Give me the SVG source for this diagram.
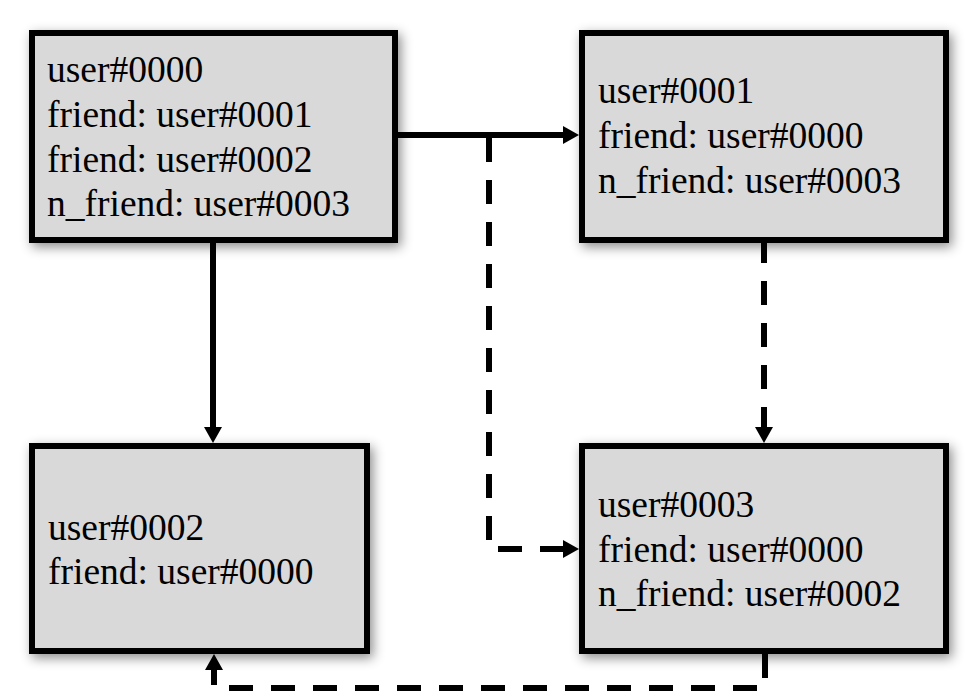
<svg xmlns="http://www.w3.org/2000/svg" width="978" height="692" viewBox="0 0 978 692">
<defs>
<filter id="sh" x="-10%" y="-10%" width="125%" height="130%">
<feDropShadow dx="3" dy="4" stdDeviation="6" flood-color="#000" flood-opacity="0.45"/>
</filter>
<marker id="ah" markerUnits="userSpaceOnUse" markerWidth="16" markerHeight="18" refX="6" refY="9" orient="auto">
<path d="M0,0 L16,9 L0,18 Z" fill="#000"/>
</marker>
<style>
.box{fill:#d9d9d9;stroke:#000;stroke-width:6;filter:url(#sh)}
.t{font-family:"Liberation Serif","Times New Roman",serif;font-size:37.5px;fill:#000}
.c{fill:none;stroke:#000;stroke-width:6;marker-end:url(#ah)}
.d{stroke-dasharray:24 18}
</style>
</defs>
<rect width="978" height="692" fill="#fff"/>
<g id="user0000">
<rect class="box" x="32" y="33" width="363" height="207"/>
<text class="t" x="47" y="82">user#0000</text>
<text class="t" x="47" y="127">friend: user#0001</text>
<text class="t" x="47" y="172">friend: user#0002</text>
<text class="t" x="47" y="216">n_friend: user#0003</text>
</g>
<g id="user0001">
<rect class="box" x="582" y="33" width="364" height="207"/>
<text class="t" x="598" y="103">user#0001</text>
<text class="t" x="598" y="148">friend: user#0000</text>
<text class="t" x="598" y="193">n_friend: user#0003</text>
</g>
<g id="user0002">
<rect class="box" x="32" y="446" width="335" height="205"/>
<text class="t" x="48" y="540">user#0002</text>
<text class="t" x="48" y="584">friend: user#0000</text>
</g>
<g id="user0003">
<rect class="box" x="582" y="446" width="364" height="205"/>
<text class="t" x="598" y="517">user#0003</text>
<text class="t" x="598" y="562">friend: user#0000</text>
<text class="t" x="598" y="606">n_friend: user#0002</text>
</g>
<g id="connectors">
<path class="c d" d="M489,138 V549 H569"/>
<path class="c" d="M398,135 H569"/>
<path class="c" d="M213,243 V433"/>
<path class="c d" stroke-dashoffset="4" d="M764,243 V433"/>
<path class="c d" d="M765,654 V688 H214 V664"/>
</g>
</svg>
